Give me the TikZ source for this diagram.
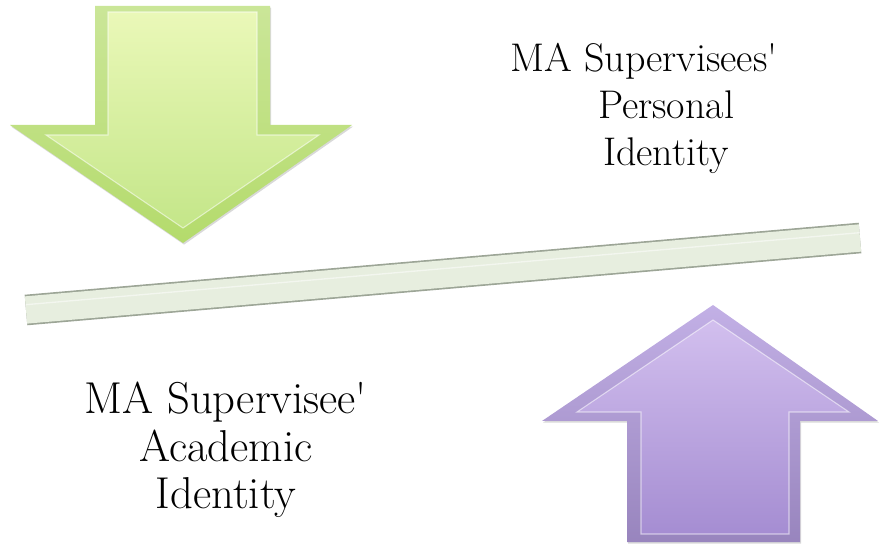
\documentclass[tikz,border=0pt]{standalone}
\usepackage{tikz}
\usetikzlibrary{shadows}

\definecolor{limeTop}{HTML}{EAF8B8}
\definecolor{limeBot}{HTML}{C4E689}
\definecolor{limeRim}{HTML}{B4DB6C}
\definecolor{lilacTop}{HTML}{D2BFEE}
\definecolor{lilacBot}{HTML}{A58DD2}
\definecolor{lilacRim}{HTML}{B39CDF}
\definecolor{barFill}{HTML}{E7EEDF}
\definecolor{barEdge}{HTML}{9CA596}

\begin{document}
\begin{tikzpicture}[x=0.75pt,y=-0.75pt,
  rim/.style={drop shadow={opacity=0.3,shadow xshift=0.8pt,shadow yshift=-1.2pt}},
  face/.style={draw=white,draw opacity=0.55,line width=0.8pt},
  lbl/.style={align=center,inner sep=0pt,font=\fontsize{30}{35.25}\selectfont}]
\useasboundingbox (0,0) rectangle (879,545);

% balance beam
\coordinate (beamL) at (26,310);
\coordinate (beamR) at (860,238);
\draw[barEdge,line width=23pt] (beamL) -- (beamR);
\draw[barFill,line width=20.5pt] (beamL) -- (beamR);
\draw[white,opacity=0.5,line width=1pt,transform canvas={yshift=4pt}] (beamL) -- (beamR);

% green arrow pressing down
\shade[rim,top color=limeRim!70!white,bottom color=limeRim]
  (95,6) -- (270,6) -- (270,125) -- (352,125) -- (183,243) -- (10,125) -- (95,125) -- cycle;
\shade[face,top color=limeTop,bottom color=limeBot]
  (108,12) -- (257,12) -- (257,135) -- (319,135) -- (183,228) -- (46,135) -- (108,135) -- cycle;

% purple arrow pushing up
\shade[rim,top color=lilacRim!80!white,bottom color=lilacRim!85!black]
  (713,305) -- (878,421) -- (800,421) -- (800,542) -- (627,542) -- (627,421) -- (542,421) -- cycle;
\shade[face,top color=lilacTop,bottom color=lilacBot]
  (713,320) -- (849,412) -- (789,412) -- (789,534) -- (641,534) -- (641,412) -- (577,412) -- cycle;

% labels
\node[lbl] (personal) at (666,108) {MA Supervisees\textquotesingle\hspace*{33pt}\\Personal\\Identity};
\node[lbl,font=\fontsize{33.5}{35.5}\selectfont] (academic) at (226,450) {MA Supervisee\textquotesingle\\Academic\\Identity};
\end{tikzpicture}
\end{document}
